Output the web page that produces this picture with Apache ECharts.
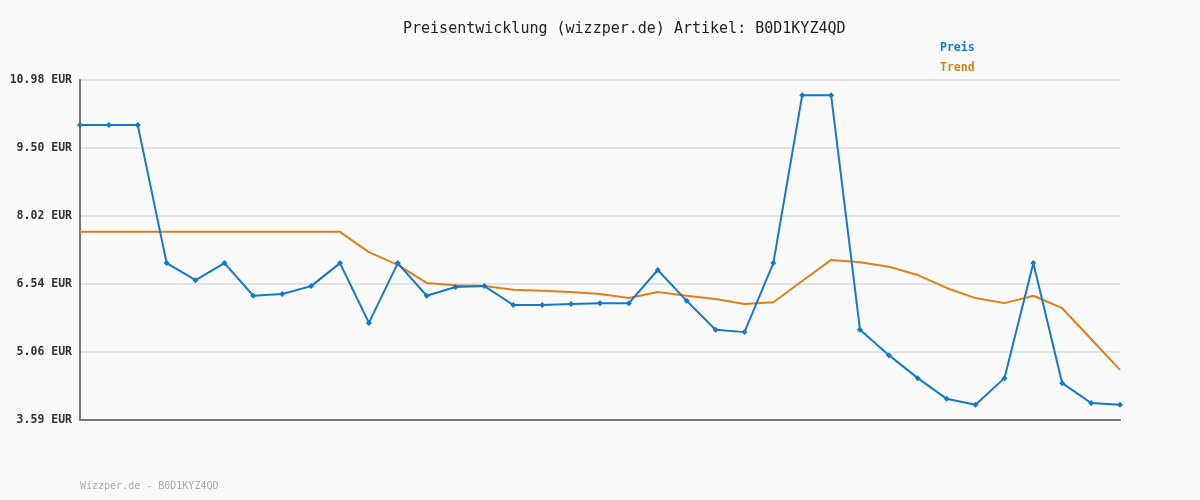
<!DOCTYPE html>
<html>
<head>
<meta charset="utf-8">
<script src="https://cdn.jsdelivr.net/npm/echarts@6/dist/echarts.min.js"></script>
<style>
html,body{margin:0;padding:0;background:#fafafa;}
#chart{width:1200px;height:500px;}
</style>
</head>
<body>
<div id="chart"></div>
<script>
const categories = ['1','2','3','4','5','6','7','8','9','10','11','12','13','14','15','16','17','18','19','20','21','22','23','24','25','26','27','28','29','30','31','32','33','34','35','36','37'];
const preis = [10.00,10.00,10.00,7.00,6.63,7.00,6.29,6.33,6.50,7.00,5.70,7.00,6.29,6.48,6.50,6.09,6.09,6.11,6.13,6.13,6.85,6.18,5.55,5.50,7.00,10.65,10.65,5.55,5.00,4.50,4.05,3.92,4.50,7.00,4.39,3.96,3.92];
const trend = [7.68,7.68,7.68,7.68,7.68,7.68,7.68,7.68,7.68,7.68,7.24,6.96,6.57,6.52,6.50,6.42,6.40,6.37,6.33,6.24,6.37,6.29,6.22,6.11,6.15,6.61,7.07,7.02,6.92,6.74,6.46,6.24,6.13,6.29,6.02,5.35,4.68];
const tickValues = [3.59,5.068,6.546,8.024,9.502,10.98];
const tickLabels = ['3.59 EUR','5.06 EUR','6.54 EUR','8.02 EUR','9.50 EUR','10.98 EUR'];
const titleText = 'Preisentwicklung (wizzper.de) Artikel: B0D1KYZ4QD';
const footerText = 'Wizzper.de - B0D1KYZ4QD';

const BLUE = '#1479c8';
const ORANGE = '#e0801a';
const MONO = '"DejaVu Sans Mono", "Liberation Mono", monospace';

const chart = echarts.init(document.getElementById('chart'));
chart.setOption({
  backgroundColor: '#fafafa',
  animation: false,
  title: {
    text: titleText,
    left: 398,
    top: 17,
    textStyle: {fontFamily: MONO, fontSize: 15, fontWeight: 'normal', color: '#222'}
  },
  legend: {
    orient: 'vertical',
    left: 930,
    top: 37,
    itemWidth: 0,
    itemHeight: 0,
    itemGap: 8,
    icon: 'none',
    data: [
      {name: 'Preis', textStyle: {color: BLUE}},
      {name: 'Trend', textStyle: {color: ORANGE}}
    ],
    textStyle: {fontFamily: MONO, fontSize: 11.5, fontWeight: 'bold'}
  },
  graphic: [{
    type: 'text', left: 80, top: 481,
    style: {text: footerText, fill: '#aaaaaa', font: '10px ' + MONO}
  }],
  grid: {left: 80, right: 80, top: 80, bottom: 80},
  xAxis: {
    type: 'category',
    data: categories,
    boundaryGap: false,
    axisLine: {lineStyle: {color: '#777', width: 2}},
    axisTick: {show: false},
    axisLabel: {show: false}
  },
  yAxis: {
    type: 'value',
    min: 3.59,
    max: 10.98,
    axisLine: {show: true, lineStyle: {color: '#777', width: 2}},
    axisTick: {show: false, customValues: tickValues},
    axisLabel: {
      customValues: tickValues,
      margin: 8,
      fontFamily: MONO, fontSize: 11.5, fontWeight: 'bold', color: '#333',
      formatter: function (v) {
        let best = 0;
        for (let i = 0; i < tickValues.length; i++) {
          if (Math.abs(tickValues[i] - v) < Math.abs(tickValues[best] - v)) best = i;
        }
        return tickLabels[best];
      }
    },
    splitLine: {show: true, lineStyle: {color: '#e4e4e4', width: 2}}
  },
  series: [
    {
      name: 'Preis', type: 'line', data: preis,
      symbol: 'diamond', symbolSize: 6, showSymbol: true,
      lineStyle: {color: BLUE, width: 2},
      itemStyle: {color: BLUE},
      z: 3
    },
    {
      name: 'Trend', type: 'line', data: trend,
      symbol: 'none',
      lineStyle: {color: ORANGE, width: 2},
      itemStyle: {color: ORANGE},
      z: 2
    }
  ]
});
</script>
</body>
</html>
